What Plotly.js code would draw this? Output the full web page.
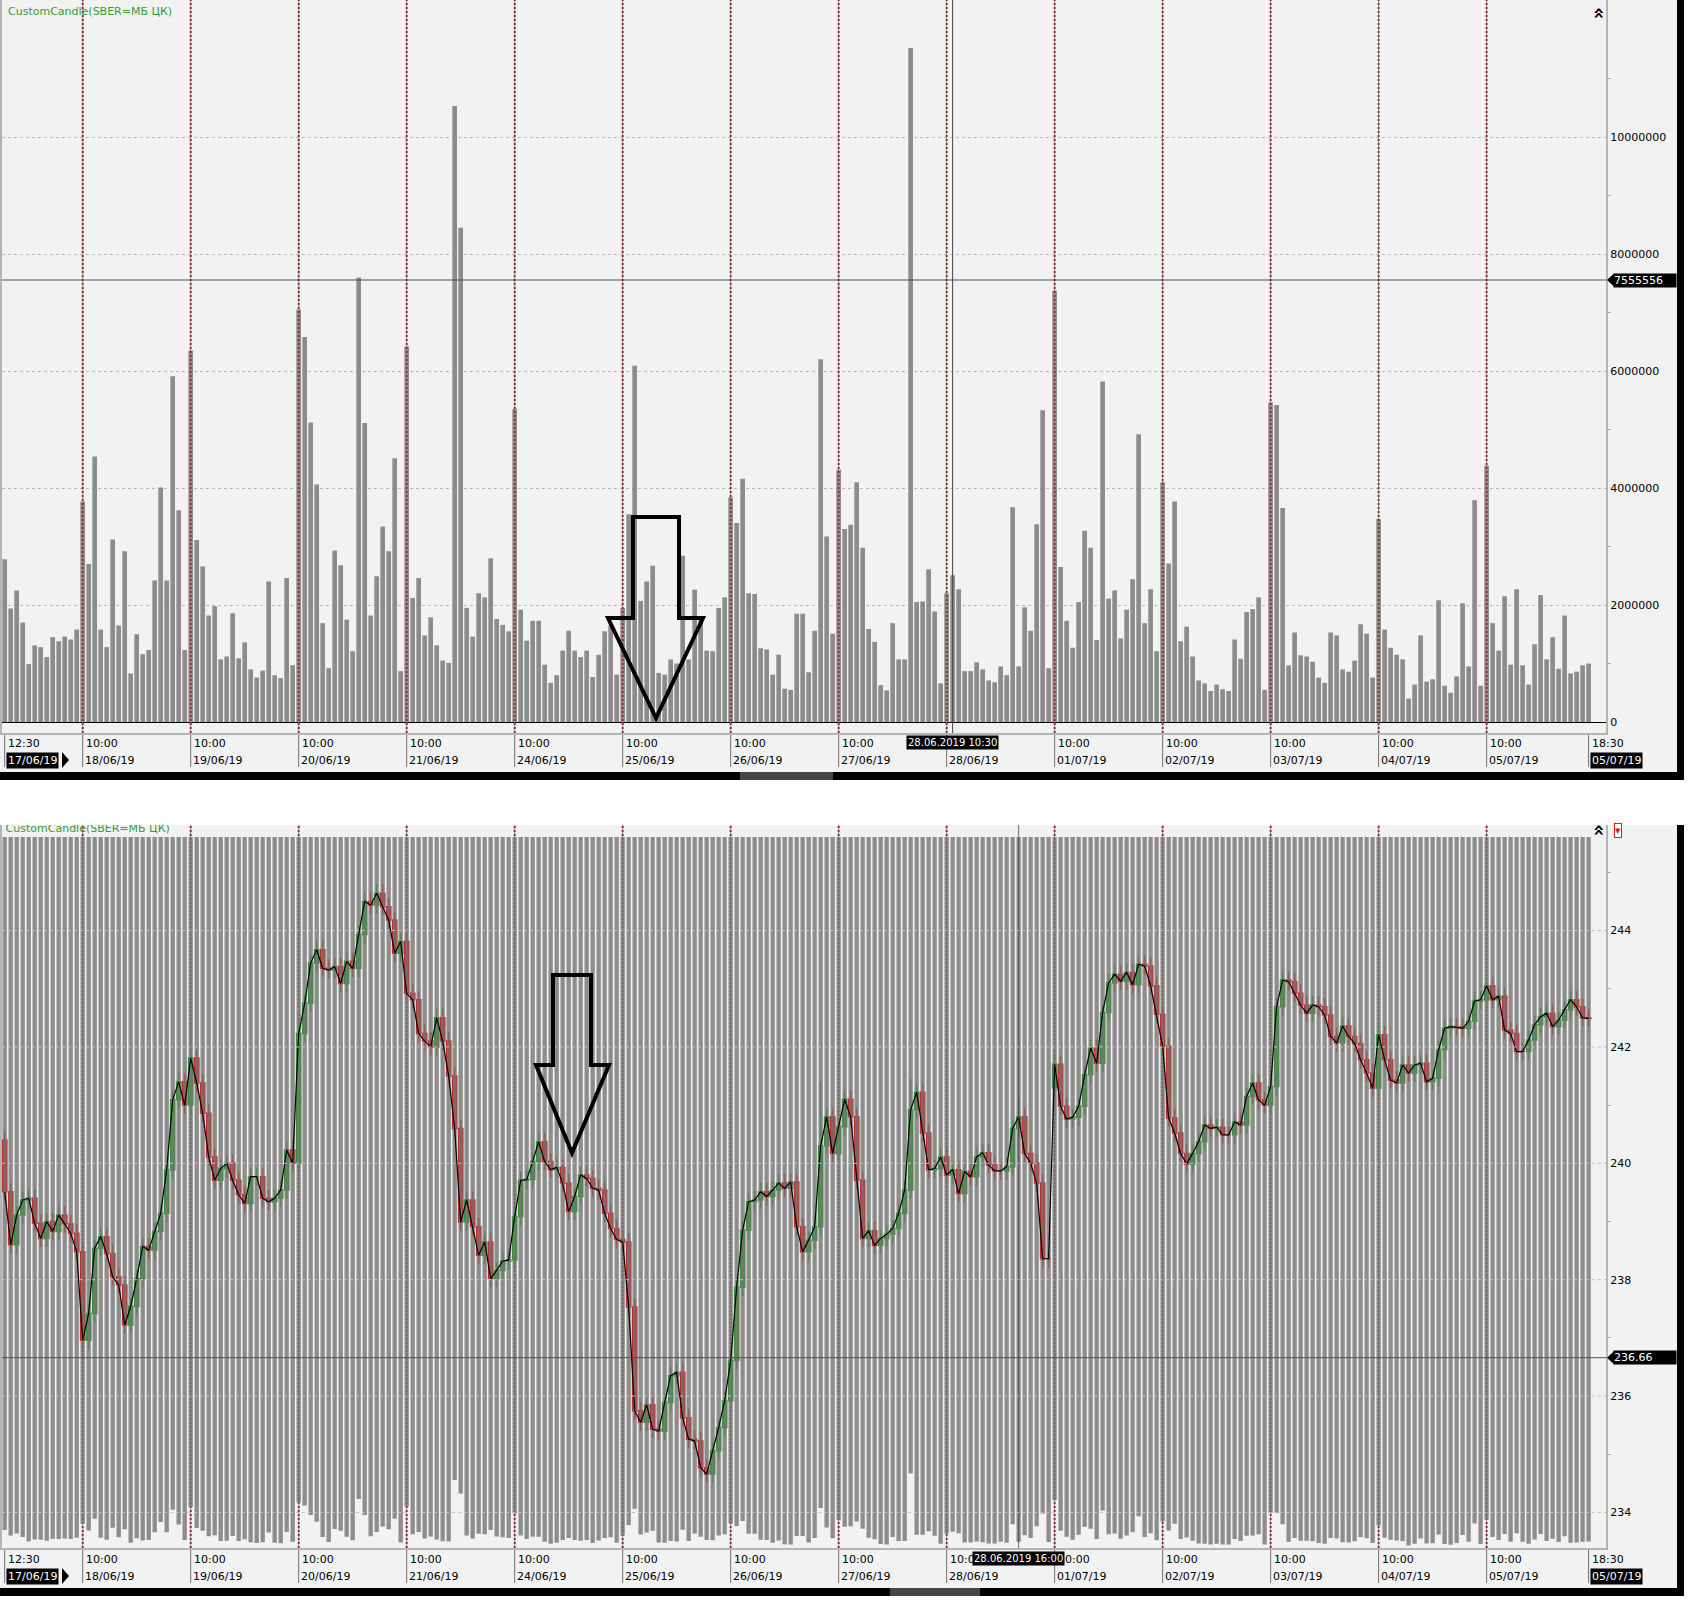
<!DOCTYPE html>
<html><head><meta charset="utf-8">
<script src="https://cdn.plot.ly/plotly-3.0.1.min.js"></script>
<style>html,body{margin:0;padding:0;background:#fff;}#chart{width:1696px;height:1612px;}</style>
</head><body><div id="chart"></div>
<script>
// ---------------- DATA ----------------
const titleText = "CustomCandle(SBER=МБ ЦК)";

// volume per 30-min bar, 17/06/19 12:30 ... 05/07/19 18:30
const volume = [
 2780000,1940000,2250000,1700000,990000,1310000,1280000,1110000,1450000,1380000,1460000,1410000,1580000,
 3770000,2700000,4540000,1580000,1280000,3120000,1650000,2920000,830000,1500000,1160000,1230000,2420000,4010000,2420000,5910000,3620000,1230000,
 6350000,3110000,2660000,1820000,1980000,1070000,1120000,1860000,1090000,1360000,900000,760000,880000,2400000,800000,750000,2460000,970000,
 7050000,6580000,5120000,4060000,1690000,920000,2930000,2680000,1750000,1210000,7600000,5110000,1820000,2490000,3340000,2920000,4510000,870000,
 6420000,2120000,2460000,1480000,1790000,1310000,1050000,1010000,10530000,8450000,1950000,1460000,2200000,2130000,2800000,1760000,1660000,1550000,
 5350000,1920000,1390000,1730000,1730000,980000,670000,800000,1220000,1560000,1220000,1110000,1220000,770000,1150000,1550000,1650000,810000,
 1950000,3550000,6090000,2070000,2400000,2670000,840000,810000,1070000,1000000,2840000,1070000,2260000,1750000,1220000,1210000,1950000,2130000,
 3840000,3400000,4160000,2200000,2190000,1260000,1240000,810000,1150000,570000,550000,1850000,1850000,850000,1560000,6200000,3170000,1510000,
 4310000,3300000,3370000,4100000,2980000,1590000,1370000,630000,540000,1690000,1070000,1070000,11520000,2050000,2060000,2610000,1890000,660000,
 2200000,2510000,2270000,870000,870000,1020000,900000,710000,680000,950000,800000,3670000,950000,1960000,1560000,3380000,5330000,920000,
 7370000,2650000,1730000,1270000,2050000,3270000,2980000,1400000,5820000,2110000,2250000,1430000,1920000,2440000,4920000,1690000,2270000,1210000,
 4100000,2710000,3770000,1380000,1630000,1120000,710000,660000,530000,640000,560000,530000,1410000,1080000,1880000,1930000,2130000,550000,
 5460000,5420000,3660000,970000,1530000,1140000,1120000,1030000,760000,670000,1530000,1480000,900000,860000,1050000,1670000,1510000,760000,
 3470000,1580000,1270000,1150000,1070000,400000,640000,1480000,690000,730000,2080000,620000,500000,780000,2030000,950000,3790000,620000,
 4380000,1690000,1220000,2150000,980000,2270000,970000,640000,1330000,2170000,1070000,1450000,910000,1820000,830000,860000,970000,1000000
];

const openP = [
 240.40,239.51,238.60,239.11,239.37,239.40,238.97,238.71,239.00,238.83,
 239.11,238.96,238.80,238.48,236.96,237.42,238.54,238.74,238.45,238.05,
 237.91,237.22,237.54,238.02,238.57,238.51,238.83,239.14,239.89,241.09,
 241.40,241.00,241.81,241.38,240.86,240.11,239.71,239.91,240.00,239.71,
 239.46,239.31,239.77,239.77,239.40,239.34,239.40,239.54,240.23,240.00,
 242.23,242.75,243.44,243.67,243.35,243.32,243.38,243.09,243.47,243.35,
 243.93,244.50,244.44,244.64,244.41,244.18,243.61,243.81,242.92,242.81,
 242.23,242.10,242.00,242.50,242.10,241.50,240.60,238.99,239.37,238.91,
 238.42,238.65,238.02,238.16,238.32,238.34,239.08,239.71,239.72,240.03,
 240.37,240.03,239.89,239.93,239.66,239.17,239.43,239.80,239.74,239.57,
 239.54,239.14,238.88,238.69,238.65,237.53,235.75,235.55,235.85,235.43,
 235.40,235.89,236.35,236.41,235.63,235.26,235.23,234.77,234.66,235.06,
 235.46,235.92,236.61,237.87,238.85,239.34,239.37,239.51,239.43,239.54,
 239.66,239.57,239.68,238.91,238.48,238.68,238.91,240.30,240.80,240.17,
 240.63,241.10,240.80,239.71,238.71,238.84,238.59,238.71,238.78,238.88,
 239.14,239.54,240.92,241.22,240.52,239.89,239.91,240.11,239.80,239.89,
 239.48,239.86,239.77,240.11,240.18,239.97,239.87,239.87,239.94,240.60,
 240.80,240.17,240.00,239.66,238.36,241.30,241.70,240.98,240.76,240.79,
 240.98,241.52,241.98,241.72,242.59,243.10,243.25,243.13,243.28,243.07,
 243.42,243.39,243.05,242.56,242.01,240.78,240.52,240.17,239.99,240.17,
 240.37,240.66,240.60,240.62,240.49,240.49,240.71,240.66,241.15,241.38,
 241.09,241.00,241.32,242.69,243.15,243.12,242.92,242.72,242.58,242.72,
 242.69,242.55,242.18,242.07,242.36,242.18,242.06,241.78,241.55,241.29,
 242.21,241.78,241.43,241.38,241.69,241.55,241.69,241.72,241.40,241.46,
 241.95,242.32,242.35,242.34,242.32,242.44,242.79,242.81,243.05,242.81,
 242.87,242.29,242.23,241.92,241.92,242.12,242.38,242.52,242.58,242.35,
 242.46,242.64,242.81,242.69,242.50
];
const highP = [
 240.55,239.66,239.26,239.52,239.55,239.55,239.12,239.15,239.15,239.26,
 239.26,239.11,238.95,238.63,237.57,238.69,238.89,238.89,238.60,238.20,
 238.06,237.69,238.17,238.72,238.72,238.98,239.29,240.04,241.24,241.55,
 241.55,242.50,241.96,241.53,241.01,240.26,240.06,240.15,240.15,239.86,
 239.61,239.92,239.92,239.92,239.55,239.55,239.69,240.38,240.38,242.38,
 242.90,243.59,243.82,243.82,243.50,243.53,243.53,243.62,243.62,244.08,
 244.65,244.65,244.79,244.79,244.56,244.33,243.96,243.96,243.07,242.96,
 242.38,242.25,242.65,242.65,242.25,241.65,240.75,239.52,239.52,239.06,
 238.80,238.80,238.31,238.47,238.49,239.23,239.86,239.87,240.18,240.52,
 240.52,240.18,240.08,240.08,239.81,239.58,239.95,239.95,239.89,239.72,
 239.69,239.29,239.03,238.84,238.80,237.68,235.90,236.00,236.00,235.58,
 236.04,236.50,236.56,236.56,235.78,235.41,235.38,234.92,235.21,235.61,
 236.07,236.76,238.02,239.00,239.49,239.52,239.66,239.66,239.69,239.81,
 239.81,239.83,239.83,239.06,238.83,239.06,241.40,240.95,240.95,240.78,
 241.25,241.25,240.95,239.86,238.99,238.99,238.86,238.93,239.03,239.29,
 239.69,241.45,241.37,241.37,240.67,240.06,240.26,240.26,240.04,240.04,
 240.01,240.01,240.26,240.33,240.33,240.12,240.02,240.09,240.75,241.10,
 240.95,240.32,240.15,239.81,238.51,241.85,241.85,241.13,240.94,241.13,
 241.67,242.13,242.13,242.74,243.25,243.40,243.40,243.43,243.43,243.57,
 243.57,243.54,243.20,242.71,242.16,240.93,240.67,240.32,240.32,240.52,
 240.81,240.81,240.77,240.77,240.64,240.86,240.86,241.30,241.53,241.53,
 241.24,241.47,242.84,243.30,243.30,243.27,243.07,242.87,242.87,242.87,
 242.84,242.70,242.33,242.51,242.51,242.33,242.21,241.93,241.70,242.36,
 242.36,241.93,241.58,241.84,241.84,241.84,241.87,241.87,241.61,242.10,
 242.47,242.50,242.50,242.49,242.59,242.94,242.96,243.20,243.20,243.02,
 243.02,242.44,242.38,242.07,242.27,242.53,242.67,242.73,242.73,242.61,
 242.79,242.96,242.96,242.84,242.65
];
const lowP = [
 239.36,238.45,238.45,238.96,239.22,238.82,238.56,238.56,238.68,238.68,
 238.81,238.65,238.33,236.81,236.81,237.27,238.39,238.30,237.90,237.76,
 237.07,237.07,237.39,237.87,238.36,238.36,238.68,238.99,239.74,240.94,
 240.85,240.85,241.23,240.71,239.96,239.56,239.56,239.76,239.56,239.31,
 239.16,239.16,239.62,239.25,239.19,239.19,239.25,239.39,239.85,239.85,
 242.08,242.60,243.29,243.20,243.17,243.17,242.94,242.94,243.20,243.20,
 243.78,244.29,244.29,244.26,244.03,243.46,243.46,242.77,242.66,242.08,
 241.95,241.85,241.85,241.95,241.35,240.45,238.84,238.84,238.76,238.27,
 238.27,237.87,237.87,238.01,238.17,238.19,238.93,239.56,239.57,239.88,
 239.88,239.74,239.74,239.51,239.02,239.02,239.28,239.59,239.42,239.39,
 238.99,238.73,238.54,238.50,237.38,235.60,235.40,235.40,235.28,235.25,
 235.25,235.74,236.20,235.48,235.11,235.08,234.62,234.51,234.51,234.91,
 235.31,235.77,236.46,237.72,238.70,239.19,239.22,239.28,239.28,239.39,
 239.42,239.42,238.76,238.33,238.33,238.53,238.76,240.15,240.02,240.02,
 240.48,240.65,239.56,238.56,238.56,238.44,238.44,238.56,238.63,238.73,
 238.99,239.39,240.77,240.37,239.74,239.74,239.76,239.65,239.65,239.33,
 239.33,239.62,239.62,239.96,239.82,239.72,239.72,239.72,239.79,240.45,
 240.02,239.85,239.51,238.21,238.21,240.80,240.83,240.61,240.61,240.64,
 240.83,241.37,241.57,241.57,242.44,242.95,242.98,242.98,242.92,242.92,
 243.24,242.90,242.41,241.86,240.63,240.37,240.02,239.84,239.84,240.02,
 240.22,240.45,240.45,240.34,240.34,240.34,240.51,240.51,241.00,240.94,
 240.85,240.85,241.17,242.54,242.97,242.77,242.57,242.43,242.43,242.54,
 242.40,242.03,241.92,241.92,242.03,241.91,241.63,241.40,241.14,241.14,
 241.63,241.28,241.23,241.23,241.40,241.40,241.54,241.25,241.25,241.31,
 241.80,242.17,242.19,242.17,242.17,242.29,242.64,242.66,242.66,242.66,
 242.14,242.08,241.77,241.77,241.77,241.97,242.23,242.37,242.20,242.20,
 242.31,242.49,242.54,242.35,242.35
];
const closeP = [
 239.51,238.60,239.11,239.37,239.40,238.97,238.71,239.00,238.83,239.11,
 238.96,238.80,238.48,236.96,237.42,238.54,238.74,238.45,238.05,237.91,
 237.22,237.54,238.02,238.57,238.51,238.83,239.14,239.89,241.09,241.40,
 241.00,241.81,241.38,240.86,240.11,239.71,239.91,240.00,239.71,239.46,
 239.31,239.77,239.77,239.40,239.34,239.40,239.54,240.23,240.00,242.23,
 242.75,243.44,243.67,243.35,243.32,243.38,243.09,243.47,243.35,243.93,
 244.50,244.44,244.64,244.41,244.18,243.61,243.81,242.92,242.81,242.23,
 242.10,242.00,242.50,242.10,241.50,240.60,238.99,239.37,238.91,238.42,
 238.65,238.02,238.16,238.32,238.34,239.08,239.71,239.72,240.03,240.37,
 240.03,239.89,239.93,239.66,239.17,239.43,239.80,239.74,239.57,239.54,
 239.14,238.88,238.69,238.65,237.53,235.75,235.55,235.85,235.43,235.40,
 235.89,236.35,236.41,235.63,235.26,235.23,234.77,234.66,235.06,235.46,
 235.92,236.61,237.87,238.85,239.34,239.37,239.51,239.43,239.54,239.66,
 239.57,239.68,238.91,238.48,238.68,238.91,240.30,240.80,240.17,240.63,
 241.10,240.80,239.71,238.71,238.84,238.59,238.71,238.78,238.88,239.14,
 239.54,240.92,241.22,240.52,239.89,239.91,240.11,239.80,239.89,239.48,
 239.86,239.77,240.11,240.18,239.97,239.87,239.87,239.94,240.60,240.80,
 240.17,240.00,239.66,238.36,238.36,241.70,240.98,240.76,240.79,240.98,
 241.52,241.98,241.72,242.59,243.10,243.25,243.13,243.28,243.07,243.42,
 243.39,243.05,242.56,242.01,240.78,240.52,240.17,239.99,240.17,240.37,
 240.66,240.60,240.62,240.49,240.49,240.71,240.66,241.15,241.38,241.09,
 241.00,241.32,242.69,243.15,243.12,242.92,242.72,242.58,242.72,242.69,
 242.55,242.18,242.07,242.36,242.18,242.06,241.78,241.55,241.29,242.21,
 241.78,241.43,241.38,241.69,241.55,241.69,241.72,241.40,241.46,241.95,
 242.32,242.35,242.34,242.32,242.44,242.79,242.81,243.05,242.81,242.87,
 242.29,242.23,241.92,241.92,242.12,242.38,242.52,242.58,242.35,242.46,
 242.64,242.81,242.69,242.50,242.49
];

// axis ticks (bar index of each labelled bar)
const tickIndex = [0,13,31,49,67,85,103,121,139,157,175,193,211,229,247,264];
const tickTimes = ["12:30","10:00","10:00","10:00","10:00","10:00","10:00","10:00","10:00","10:00","10:00","10:00","10:00","10:00","10:00","18:30"];
const tickDates = ["17/06/19","18/06/19","19/06/19","20/06/19","21/06/19","24/06/19","25/06/19","26/06/19","27/06/19","28/06/19","01/07/19","02/07/19","03/07/19","04/07/19","05/07/19","05/07/19"];
const volumeTicks = [0,2000000,4000000,6000000,8000000,10000000];
const priceTicks = [234,236,238,240,242,244];
const topCursor = {index:158, label:"28.06.2019 10:30", value:7555556, valueLabel:"7555556"};
const bottomCursor = {index:169, label:"28.06.2019 16:00", value:236.66, valueLabel:"236.66"};

// ---------------- LAYOUT HELPERS ----------------
const W = 1696, H = 1612, FONT = "DejaVu Sans";
const px = x => x / W;
const py = y => 1 - y / H;
const barIndex = volume.map((_, i) => i);
const XR = [-0.45, 266.9];

const traces = [
  {type:'bar', x:barIndex, y:volume, xaxis:'x', yaxis:'y', width:0.78,
   marker:{color:'#8c8c8c', line:{width:0}}, hoverinfo:'skip'},
  {type:'candlestick', x:barIndex, open:openP, high:highP, low:lowP, close:closeP,
   xaxis:'x2', yaxis:'y2', whiskerwidth:0,
   increasing:{line:{color:'#14a014', width:1.5}, fillcolor:'#14a014'},
   decreasing:{line:{color:'#f00000', width:1.5}, fillcolor:'#f00000'}, hoverinfo:'skip'},
  {type:'scatter', mode:'text', x:[0.15], y:[245.745], text:[titleText], textposition:'middle right',
   textfont:{family:FONT, size:11, color:'#3a9a3a'}, cliponaxis:true, xaxis:'x2', yaxis:'y2', hoverinfo:'skip'},
  {type:'bar', x:barIndex, base:volume, y:volume.map(() => 300000000), xaxis:'x2', yaxis:'y3', width:0.72,
   marker:{color:'#777777', line:{width:0}}, opacity:0.82, hoverinfo:'skip'},
  {type:'scatter', mode:'lines', x:barIndex, y:closeP, xaxis:'x2', yaxis:'y4',
   line:{color:'#000000', width:1.2}, hoverinfo:'skip'}
];

const shapes = [];
const rectPx = (x0,y0,x1,y1,color,layer) => shapes.push({type:'rect', xref:'paper', yref:'paper',
  x0:px(x0), x1:px(x1), y0:py(y1), y1:py(y0), fillcolor:color, line:{width:0}, layer:layer || 'below'});
rectPx(0,0,1677,772,'#f2f2f2');
rectPx(1677,0,1684,780,'#000000');
rectPx(0,772,1684,780,'#000000');
rectPx(740,772,833,780,'#454545');
rectPx(0,825,1677,1588,'#f2f2f2');
rectPx(1677,825,1684,1596,'#000000');
rectPx(0,1588,1684,1596,'#000000');
rectPx(890,1588,980,1596,'#454545');

const daySeps = tickIndex.slice(1, -1);
daySeps.forEach(i => {
  // top panel
  shapes.push({type:'line', xref:'x', yref:'paper', x0:i, x1:i, y0:py(733), y1:1, line:{color:'#8e8e8e', width:1}, layer:'above'});
  shapes.push({type:'line', xref:'x', yref:'paper', x0:i, x1:i, y0:py(733), y1:1, line:{color:'#a32a2a', width:2, dash:'2px,2px'}, layer:'above'});
  // bottom panel (under the translucent bars)
  shapes.push({type:'line', xref:'x2', yref:'paper', x0:i, x1:i, y0:py(1548), y1:py(825), line:{color:'#8e8e8e', width:1}, layer:'below'});
  shapes.push({type:'line', xref:'x2', yref:'paper', x0:i, x1:i, y0:py(1548), y1:py(825), line:{color:'#a32a2a', width:2, dash:'2px,2px'}, layer:'below'});
});
tickIndex.forEach(i => {
  shapes.push({type:'line', xref:'x', yref:'paper', x0:i, x1:i, y0:py(767), y1:py(733), line:{color:'#707070', width:1}, layer:'below'});
  shapes.push({type:'line', xref:'x2', yref:'paper', x0:i, x1:i, y0:py(1583), y1:py(1548), line:{color:'#707070', width:1}, layer:'below'});
});
// cursor lines
shapes.push({type:'line', xref:'x', yref:'paper', x0:topCursor.index, x1:topCursor.index, y0:py(733), y1:1, line:{color:'#444444', width:1}, layer:'above'});
shapes.push({type:'line', xref:'paper', yref:'y', x0:px(2), x1:px(1606), y0:topCursor.value, y1:topCursor.value, line:{color:'#505050', width:1}, layer:'above'});
shapes.push({type:'line', xref:'x2', yref:'paper', x0:bottomCursor.index, x1:bottomCursor.index, y0:py(1548), y1:py(825), line:{color:'rgba(60,60,60,0.75)', width:1}, layer:'above'});
shapes.push({type:'line', xref:'paper', yref:'y2', x0:px(2), x1:px(1606), y0:bottomCursor.value, y1:bottomCursor.value, line:{color:'#505050', width:1}, layer:'above'});
// bottom panel grid lines drawn over bars
priceTicks.forEach(p => shapes.push({type:'line', xref:'paper', yref:'y2', x0:px(2), x1:px(1606), y0:p, y1:p,
  line:{color:'#c3c3c3', width:1, dash:'dot'}, layer:'above'}));

// hand-drawn arrows
const pathPx = pts => 'M ' + pts.map(p => px(p[0]).toFixed(5) + ' ' + py(p[1]).toFixed(5)).join(' L ') + ' Z';
shapes.push({type:'path', xref:'paper', yref:'paper', layer:'above', fillcolor:'rgba(0,0,0,0)',
  line:{color:'#000', width:4}, path:pathPx([[633,517],[679,517],[679,618],[703,618],[656,718],[608,618],[633,618]])});
shapes.push({type:'path', xref:'paper', yref:'paper', layer:'above', fillcolor:'rgba(0,0,0,0)',
  line:{color:'#000', width:4}, path:pathPx([[553,975],[591,975],[591,1065],[609,1065],[572,1153],[536,1065],[553,1065]])});
// tag pointers
const tagTop = 722 - topCursor.value * 58.5 / 1e6;
const tagBot = 1163.3 - (bottomCursor.value - 240) * 58.2;
[tagTop, tagBot].forEach(y => shapes.push({type:'path', xref:'paper', yref:'paper', layer:'above', fillcolor:'#000', line:{width:0},
  path:pathPx([[1607,y],[1614,y-6.5],[1614,y+6.5]])}));
// first date pointer
shapes.push({type:'path', xref:'paper', yref:'paper', layer:'above', fillcolor:'#000', line:{width:0}, path:pathPx([[62,752],[69,760],[62,768]])});
shapes.push({type:'path', xref:'paper', yref:'paper', layer:'above', fillcolor:'#000', line:{width:0}, path:pathPx([[62,1568],[69,1576],[62,1584]])});

const ann = [];
const addText = o => ann.push(Object.assign({showarrow:false, xanchor:'left', yanchor:'middle',
  font:{family:FONT, size:11, color:'#000'}}, o));
addText({xref:'paper', yref:'paper', x:px(6), y:py(11), text:titleText, font:{family:FONT, size:11, color:'#3a9a3a'}});
[['x', 743, 760], ['x2', 1559, 1576]].forEach(([xr, yt, yd]) => {
  tickIndex.forEach((i, k) => {
    // the top time label under the cursor box is fully hidden in the original
    if (!(xr === 'x' && tickIndex[k] === 157)) {
      addText({xref:xr, yref:'paper', x:i, y:py(yt), xshift:1, text:tickTimes[k]});
    }
    const edge = (k === 0 || k === tickIndex.length - 1);
    addText({xref:xr, yref:'paper', x:i, y:py(yd), xshift:1, text:tickDates[k],
      bgcolor: edge ? '#000' : undefined, borderpad: edge ? 1 : 0,
      font:{family:FONT, size:11, color: edge ? '#fff' : '#000'}});
  });
});
addText({xref:'x', yref:'paper', x:topCursor.index, y:py(742), xanchor:'center', text:topCursor.label,
  bgcolor:'#000', borderpad:1, font:{family:FONT, size:10, color:'#fff'}});
addText({xref:'x2', yref:'paper', x:bottomCursor.index, y:py(1558), xanchor:'center', text:bottomCursor.label,
  bgcolor:'#000', borderpad:1, font:{family:FONT, size:10, color:'#fff'}});
addText({xref:'paper', yref:'y', x:px(1613), y:topCursor.value, text:topCursor.valueLabel, bgcolor:'#000',
  borderpad:0, width:62, align:'left', font:{family:FONT, size:11, color:'#fff'}});
addText({xref:'paper', yref:'y2', x:px(1613), y:bottomCursor.value, text:bottomCursor.valueLabel, bgcolor:'#000',
  borderpad:0, width:62, align:'left', font:{family:FONT, size:11, color:'#fff'}});
addText({xref:'paper', yref:'paper', x:px(1600), y:py(13), xanchor:'center', text:'<b>«</b>', textangle:90,
  font:{family:FONT, size:19, color:'#000'}});
addText({xref:'paper', yref:'paper', x:px(1600), y:py(830), xanchor:'center', text:'<b>«</b>', textangle:90,
  font:{family:FONT, size:19, color:'#000'}});
addText({xref:'paper', yref:'paper', x:px(1618), y:py(830), xanchor:'center', text:'▾', bgcolor:'#fff',
  bordercolor:'#e02020', borderwidth:1, borderpad:0, font:{family:FONT, size:11, color:'#e02020'}});

const axBase = {showgrid:false, zeroline:false, ticks:'', fixedrange:true};
const layout = {
  width:W, height:H, margin:{l:0, r:0, t:0, b:0, pad:0},
  paper_bgcolor:'#ffffff', plot_bgcolor:'rgba(0,0,0,0)', showlegend:false, hovermode:false,
  font:{family:FONT, size:11, color:'#000'}, boxgap:0.0,
  xaxis: Object.assign({}, axBase, {domain:[px(2), px(1606)], range:XR, anchor:'y', showticklabels:false,
    showline:true, mirror:true, linecolor:'#b4b4b4', linewidth:2}),
  yaxis: Object.assign({}, axBase, {domain:[py(733), 1], range:[-188000, 12342000], side:'right', anchor:'x',
    tickvals:volumeTicks, tickformat:'d', showgrid:true, gridcolor:'#b9b9b9', griddash:'dot', gridwidth:1,
    zeroline:true, zerolinecolor:'#000', zerolinewidth:1, showline:true, mirror:true, linecolor:'#b4b4b4', linewidth:2,
    tickfont:{family:FONT, size:11, color:'#000'},
    minor:{tick0:1000000, dtick:2000000, ticks:'outside', ticklen:3, tickcolor:'#aaaaaa', tickwidth:1}}),
  xaxis2: Object.assign({}, axBase, {domain:[px(2), px(1606)], range:XR, anchor:'y2', showticklabels:false,
    showline:true, linecolor:'#b4b4b4', linewidth:2, rangeslider:{visible:false}}),
  yaxis2: Object.assign({}, axBase, {domain:[py(1548), py(825)], range:[233.39, 245.813], side:'right', anchor:'x2',
    tickvals:priceTicks, showline:true, mirror:true, linecolor:'#b4b4b4', linewidth:2,
    tickfont:{family:FONT, size:11, color:'#000'},
    minor:{tick0:233, dtick:2, ticks:'outside', ticklen:3, tickcolor:'#aaaaaa', tickwidth:1}}),
  yaxis3: {domain:[py(1548), py(837)], range:[0, 110000000], anchor:'x2', visible:false, fixedrange:true},
  yaxis4: {overlaying:'y3', range:[233.39, 245.607], anchor:'x2', visible:false, fixedrange:true},
  shapes:shapes, annotations:ann
};
Plotly.newPlot('chart', traces, layout, {staticPlot:true, displayModeBar:false});
</script></body></html>
